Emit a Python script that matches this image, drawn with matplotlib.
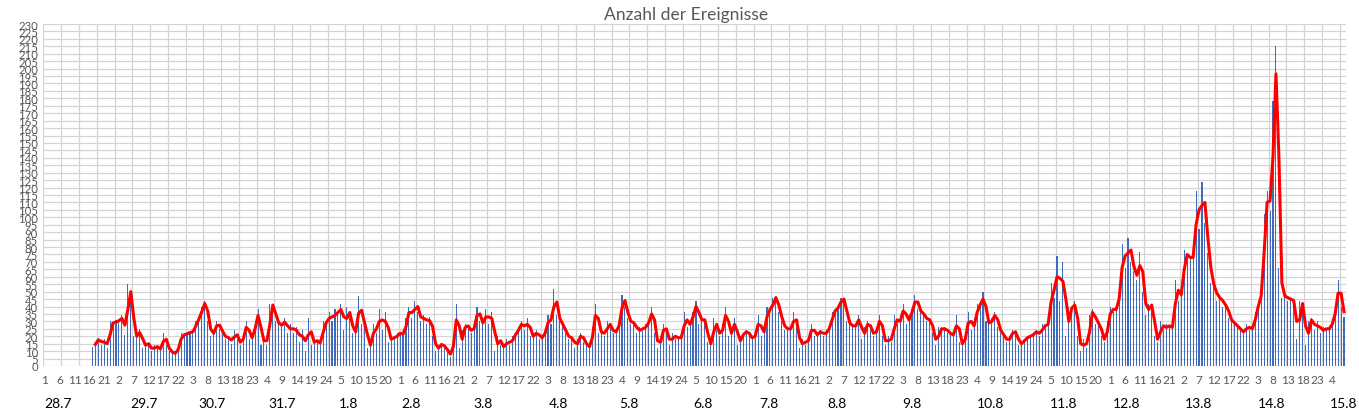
import matplotlib
matplotlib.use("Agg")
import matplotlib.pyplot as plt
import matplotlib.transforms as mtransforms
import numpy as np
import pandas as pd

plt.rcParams['font.family'] = ['Lato', 'DejaVu Sans']

# Days shown on the outer axis level, hours 1..24 on the inner level
days = ['28.7', '29.7', '30.7', '31.7', '1.8', '2.8', '3.8', '4.8', '5.8', '6.8',
        '7.8', '8.8', '9.8', '10.8', '11.8', '12.8', '13.8', '14.8', '15.8']

# hourly counts per day (None = no data)
d_28_7 = [None] * 16 + [13, 16, 19, 14, 18, 12, 30, 28]
d_29_7 = [31, 30, 34, 21, 55, 45, 20, 20, 25, 12, 16, 14, 10, 14, 12, 11, 22, 14, 10, 9, 8, 14, 22, 20]
d_30_7 = [23, 22, 24, 30, 33, 40, 44, 30, 20, 24, 30, 25, 22, 18, 20, 15, 24, 18, 14, 22, 30, 18, 20, 30]
d_31_7 = [38, 14, 20, 14, 42, 40, 30, 28, 27, 32, 22, 28, 22, 26, 16, 24, 10, 32, 14, 18, 16, 15, 30, 28]
d_1_8 = [36, 30, 38, 34, 42, 24, 40, 32, 22, 24, 47, 28, 30, 12, 16, 28, 22, 38, 24, 36, 16, 20, 18, 22]
d_2_8 = [22, 21, 32, 40, 32, 44, 36, 30, 34, 28, 33, 20, 10, 14, 15, 12, 10, 6, 20, 42, 12, 24, 28, 26]
d_3_8 = [22, 28, 40, 30, 28, 38, 28, 36, 10, 20, 14, 12, 18, 14, 20, 22, 26, 30, 24, 32, 20, 20, 24, 18]
d_4_8 = [20, 24, 34, 28, 52, 34, 30, 26, 22, 18, 20, 12, 18, 22, 16, 14, 12, 26, 42, 22, 24, 20, 30, 26]
d_5_8 = [22, 24, 30, 48, 40, 32, 28, 30, 22, 26, 24, 28, 30, 40, 22, 12, 20, 28, 22, 14, 22, 18, 20, 18]
d_6_8 = [36, 26, 30, 36, 44, 28, 34, 28, 16, 14, 32, 24, 20, 28, 40, 20, 24, 32, 14, 20, 22, 24, 20, 18]
d_7_8 = [22, 34, 20, 26, 40, 36, 46, 46, 36, 30, 24, 26, 24, 36, 26, 12, 18, 14, 20, 28, 20, 22, 24, 20]
d_8_8 = [24, 26, 36, 38, 40, 46, 44, 30, 28, 26, 28, 34, 18, 26, 30, 24, 20, 26, 34, 20, 14, 20, 16, 34]
d_9_8 = [28, 32, 42, 28, 34, 38, 48, 38, 36, 34, 30, 32, 22, 14, 26, 24, 26, 22, 22, 20, 34, 16, 14, 22]
d_10_8 = [36, 24, 30, 42, 40, 50, 30, 28, 32, 36, 26, 22, 20, 16, 20, 24, 22, 14, 16, 18, 20, 20, 22, 24]
d_11_8 = [20, 28, 26, 30, 56, 46, 74, 44, 70, 20, 40, 38, 44, 20, 10, 18, 12, 34, 38, 28, 30, 20, 16, 30]
d_12_8 = [40, 36, 40, 50, 82, 66, 86, 70, 64, 58, 77, 50, 34, 42, 40, 20, 16, 30, 24, 28, 26, 26, 58, 44]
d_13_8 = [52, 78, 72, 74, 72, 118, 92, 124, 96, 76, 56, 54, 44, 48, 40, 42, 32, 30, 28, 26, 24, 22, 28, 24]
d_14_8 = [26, 36, 44, 50, 102, 118, 104, 178, 215, 66, 46, 48, 44, 46, 42, 18, 44, 40, 14, 30, 32, 24, 30, 22]
d_15_8 = [26, 24, 26, 30, 40, 58, 40, 33]

# date label anchors (category index where Excel printed each date)
date_label_pos = [4.4, 33.5, 56.4, 80.1, 102.7, 123.7, 148.0, 173.4, 197.4, 222.4,
                  244.7, 267.7, 293.1, 319.7, 344.1, 365.4, 389.7, 414.4, 438.7]

events = (d_28_7 + d_29_7 + d_30_7 + d_31_7 + d_1_8 + d_2_8 + d_3_8 + d_4_8 + d_5_8
          + d_6_8 + d_7_8 + d_8_8 + d_9_8 + d_10_8 + d_11_8 + d_12_8 + d_13_8 + d_14_8 + d_15_8)
vals = pd.Series([np.nan if v is None else v for v in events], dtype=float)
x = np.arange(len(vals))
hour_labels = [str(i % 24 + 1) for i in x]

# moving average trendline, period 2
trend = vals.rolling(2).mean()

fig = plt.figure(figsize=(13.59, 4.14), dpi=100)
ax = fig.add_axes([43.5 / 1359, 47 / 414, 1302 / 1359, 342 / 414])

grid_c = '#d4d4d4'
for yv in range(0, 231, 5):
    ax.axhline(yv, color=grid_c, lw=0.9, zorder=0)
for xv in np.arange(-0.5, len(vals), 6):
    ax.axvline(xv, color=grid_c, lw=0.9, zorder=0)

ax.bar(x, vals.fillna(0), width=0.36, color='#3e6bbd', zorder=2)
ax.plot(x, trend, color='#ff0000', lw=2.2, zorder=3)

ax.set_xlim(-0.5, len(vals) - 0.5)
ax.set_ylim(0, 230)
ax.set_yticks(range(0, 231, 5))
ax.set_yticklabels([str(v) for v in range(0, 231, 5)], fontsize=8.2, color='#595959')
ax.set_xticks(x[::5])
ax.set_xticklabels(hour_labels[::5], fontsize=8.6, color='#595959')
ax.tick_params(length=0, pad=6)
ax.tick_params(axis='y', pad=4)
for s in ax.spines.values():
    s.set_visible(False)

trans = mtransforms.blended_transform_factory(ax.transData, fig.transFigure)
for lbl, pos in zip(days, date_label_pos):
    ax.text(pos, 10 / 414, lbl, transform=trans, ha='center', va='center',
            fontsize=10, color='black')

fig.text(686 / 1359, 1 - 15 / 414, 'Anzahl der Ereignisse', ha='center', va='center',
         fontsize=12.6, color='#595959')

fig.savefig('out.png', dpi=100)
